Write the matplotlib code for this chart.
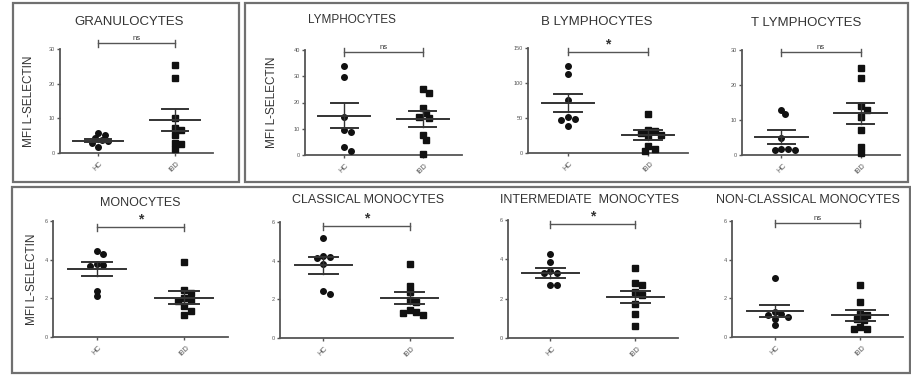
import numpy as np
import matplotlib.pyplot as plt
from matplotlib.patches import Rectangle

plt.rcParams["font.family"] = ["Liberation Sans", "DejaVu Sans"]

W, H = 912, 375

# panel data
titles = ["GRANULOCYTES", "LYMPHOCYTES", "B LYMPHOCYTES", "T LYMPHOCYTES",
          "MONOCYTES", "CLASSICAL MONOCYTES", "INTERMEDIATE  MONOCYTES",
          "NON-CLASSICAL MONOCYTES"]
groups = ["HC", "IBD"]
signif = ["ns", "ns", "*", "ns", "*", "*", "*", "ns"]
ymax = [30, 40, 150, 30, 6, 6, 6, 6]
ystep = [10, 10, 50, 10, 2, 2, 2, 2]

hc_vals = [
    [5.7, 5.2, 4.3, 3.8, 3.4, 3.0, 1.6],
    [33.9, 29.8, 14.6, 9.5, 8.9, 3.2, 1.7],
    [124.8, 113.0, 76.0, 52.0, 49.0, 47.0, 39.0],
    [13.0, 11.6, 5.0, 1.8, 1.5, 1.4, 1.6],
    [4.45, 4.3, 3.8, 3.75, 3.65, 2.4, 2.1],
    [5.19, 4.22, 4.19, 4.14, 3.81, 2.41, 2.26],
    [4.27, 3.88, 3.4, 3.28, 3.33, 2.72, 2.69],
    [3.06, 1.3, 1.21, 1.12, 1.04, 0.95, 0.61],
]
ibd_vals = [
    [25.4, 21.6, 10.0, 7.2, 6.5, 5.3, 2.9, 2.7, 1.2],
    [25.0, 23.7, 17.8, 15.9, 14.6, 14.0, 7.6, 5.7, 0.4],
    [55.0, 33.0, 31.0, 28.6, 26.0, 24.0, 9.5, 5.7, 2.4],
    [24.8, 22.0, 14.0, 12.9, 10.8, 7.1, 2.2, 0.5],
    [3.9, 2.44, 2.27, 2.0, 1.92, 1.84, 1.58, 1.36, 1.15],
    [3.84, 2.69, 2.38, 1.95, 1.86, 1.43, 1.34, 1.29, 1.17],
    [3.54, 2.82, 2.69, 2.35, 2.18, 1.75, 1.24, 0.6],
    [2.68, 1.82, 1.21, 1.12, 0.95, 0.87, 0.52, 0.43, 0.4],
]
hc_mean = [3.6, 14.9, 71.4, 5.2, 3.52, 3.76, 3.32, 1.33]
hc_sem = [0.5, 4.8, 12.5, 2.0, 0.36, 0.43, 0.26, 0.3]
ibd_mean = [9.6, 13.6, 26.0, 11.9, 2.04, 2.07, 2.09, 1.12]
ibd_sem = [3.2, 3.1, 7.0, 3.0, 0.32, 0.33, 0.31, 0.28]

# axes boxes in pixels: left, right, top (ymax), bottom (0)
boxes = [(60, 213, 49, 153), (305, 462, 50, 155), (528, 688, 48, 153),
         (742, 900, 50, 155), (53, 228, 221, 337), (280, 453, 222, 338),
         (508, 678, 220, 338), (732, 903, 221, 337)]
title_pos = [(129, 22), (352, 20), (597, 22), (806, 23),
             (140, 203), (368, 200), (590, 200), (808, 200)]
title_size = [9.5, 8.5, 9.5, 9.5, 9, 9, 9, 9]
ylabel_x = [29, 272, None, None, 32, None, None, None]
bracket_px = [43, 52, 52, 52, 227, 226, 224, 223]

gray = "#555555"
fig = plt.figure(figsize=(W / 100, H / 100), dpi=100)

# panel frames
for x0, y0, x1, y1 in [(13, 3, 239, 182), (245, 3, 908, 182), (12, 187, 910, 373)]:
    fig.add_artist(Rectangle((x0 / W, 1 - y1 / H), (x1 - x0) / W, (y1 - y0) / H,
                             transform=fig.transFigure, fill=False,
                             edgecolor="#707070", lw=1.6))


def swarm(vals, ppu_y, ppu_x, d=5.5):
    # simple beeswarm: place points so markers don't overlap
    order = np.argsort(vals)[::-1]
    placed = []
    offs = np.zeros(len(vals))
    cands = [0]
    for k in range(1, 8):
        cands += [k * d * 0.6, -k * d * 0.6]
    for i in order:
        yp = vals[i] * ppu_y
        for c in cands:
            if all((c - px) ** 2 + (yp - py) ** 2 >= d ** 2 for px, py in placed):
                break
        placed.append((c, yp))
        offs[i] = c / ppu_x
    return offs


for i in range(8):
    l, r, t, b = boxes[i]
    ax = fig.add_axes([l / W, 1 - b / H, (r - l) / W, (b - t) / H])
    ax.set_xlim(-0.5, 1.5)
    ax.set_ylim(0, ymax[i])
    ppu_x = (r - l) / 2
    ppu_y = (b - t) / ymax[i]

    for g, (vals, m, s, mk) in enumerate([(hc_vals[i], hc_mean[i], hc_sem[i], "o"),
                                          (ibd_vals[i], ibd_mean[i], ibd_sem[i], "s")]):
        vals = np.array(vals)
        xs = g + swarm(vals, ppu_y, ppu_x)
        ax.plot(xs, vals, mk, color="#111111", ms=4.0 if mk == "o" else 3.7,
                clip_on=False, zorder=3)
        ax.plot([g - 0.33, g + 0.33], [m, m], color="#333333", lw=1.4, zorder=4)
        ax.plot([g - 0.17, g + 0.17], [m + s, m + s], color="#333333", lw=1.4, zorder=4)
        ax.plot([g - 0.17, g + 0.17], [m - s, m - s], color="#333333", lw=1.4, zorder=4)
        ax.plot([g, g], [m - s, m + s], color="#333333", lw=1.0, zorder=4)

    # significance bracket
    yb = ymax[i] * (b - bracket_px[i]) / (b - t)
    cap = 3.5 / ppu_y
    ax.plot([0, 1], [yb, yb], color=gray, lw=1.0, clip_on=False)
    for g in (0, 1):
        ax.plot([g, g], [yb - cap, yb + cap], color=gray, lw=1.0, clip_on=False)
    if signif[i] == "*":
        ax.text(0.5, yb + 1.0 / ppu_y, "*", ha="center", va="bottom",
                fontsize=10, fontweight="bold", color="#333333")
    else:
        ax.text(0.5, yb + 1.0 / ppu_y, "ns", ha="center", va="bottom",
                fontsize=5.5, color="#333333")

    for side in ("top", "right"):
        ax.spines[side].set_visible(False)
    for side in ("left", "bottom"):
        ax.spines[side].set_color(gray)
        ax.spines[side].set_linewidth(1.3)
    ax.set_yticks(np.arange(0, ymax[i] + 1e-9, ystep[i]))
    ax.set_xticks([0, 1])
    ax.set_xticklabels(groups, rotation=45, ha="center", va="top")
    ax.tick_params(axis="both", colors=gray, labelsize=4, length=2.2, width=1.0, pad=1.5)
    ax.tick_params(axis="x", labelsize=5, pad=3)

    fig.text(title_pos[i][0] / W, 1 - title_pos[i][1] / H, titles[i],
             ha="center", va="center", fontsize=title_size[i], color="#333333")
    if ylabel_x[i] is not None:
        fig.text(ylabel_x[i] / W, 1 - (t + b) / 2 / H, "MFI L-SELECTIN",
                 rotation=90, ha="center", va="center", fontsize=8.5, color="#333333")

fig.savefig("out.png", dpi=100)
